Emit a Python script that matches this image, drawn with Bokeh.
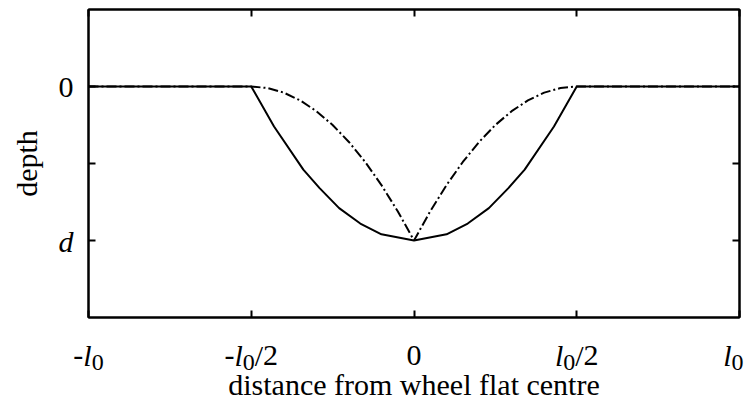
from bokeh.plotting import figure
from bokeh.models import Range1d, LinearAxis, FixedTicker, ColumnDataSource
from bokeh.core.properties import value
from bokeh.embed import file_html
from bokeh.resources import INLINE

# ---- data ----
x_ticks = [-1.0, -0.5, 0.0, 0.5, 1.0]
x_tick_labels = ["-l_0", "-l_0/2", "0", "l_0/2", "l_0"]
y_ticks = [-1.0, -0.5, 0.0]
y_tick_labels = ["d", "", "0"]

solid_x = [-1.0, -0.5, -0.43, -0.34, -0.29, -0.23, -0.165, -0.1, 0.0,
           0.1, 0.165, 0.23, 0.29, 0.34, 0.43, 0.5, 1.0]
solid_y = [0.0, 0.0, -0.26, -0.54, -0.66, -0.79, -0.89, -0.96, -1.0,
           -0.96, -0.89, -0.79, -0.66, -0.54, -0.26, 0.0, 0.0]

dash_x = [-1.0, -0.5, -0.45, -0.4, -0.35, -0.3, -0.25, -0.2, -0.15, -0.1, -0.05, 0.0,
          0.05, 0.1, 0.15, 0.2, 0.25, 0.3, 0.35, 0.4, 0.45, 0.5, 1.0]
dash_y = [0.0, 0.0, -0.01, -0.04, -0.09, -0.16, -0.25, -0.36, -0.49, -0.64, -0.81, -1.0,
          -0.81, -0.64, -0.49, -0.36, -0.25, -0.16, -0.09, -0.04, -0.01, 0.0, 0.0]

FONT = "Liberation Serif"
FS = 30
W, H = 745, 403
BL, BR, BT, BB = 88, 6, 9, 85

p = figure(width=W, height=H, x_range=Range1d(-1, 1), y_range=Range1d(-1.5, 0.5),
           output_backend="svg", toolbar_location=None,
           min_border_left=BL, min_border_right=BR, min_border_top=BT, min_border_bottom=BB)
p.grid.visible = False
p.outline_line_color = "black"
p.outline_line_width = 2
p.background_fill_color = "white"
p.border_fill_color = "white"


def style_axis(ax, ticks):
    ax.ticker = FixedTicker(ticks=ticks)
    ax.major_label_overrides = {t: "" for t in ticks}
    ax.major_label_text_font_size = "0px"
    ax.major_label_standoff = 0
    ax.major_tick_in = 7
    ax.major_tick_out = 0
    ax.major_tick_line_width = 2
    ax.major_tick_line_color = "black"
    ax.minor_tick_line_color = None
    ax.axis_line_width = 2
    ax.axis_line_color = "black"


style_axis(p.xaxis[0], x_ticks)
style_axis(p.yaxis[0], y_ticks)
p.xaxis[0].axis_label = "distance from wheel flat centre"
p.yaxis[0].axis_label = "depth"
for ax in (p.xaxis[0], p.yaxis[0]):
    ax.axis_label_text_font = FONT
    ax.axis_label_text_font_size = f"{FS}px"
    ax.axis_label_text_font_style = "normal"
    ax.axis_label_text_color = "black"
p.xaxis[0].axis_label_standoff = 50
p.yaxis[0].axis_label_standoff = 46

top_ax = LinearAxis()
style_axis(top_ax, x_ticks)
p.add_layout(top_ax, "above")
right_ax = LinearAxis()
style_axis(right_ax, y_ticks)
p.add_layout(right_ax, "right")

p.line(solid_x, solid_y, line_color="black", line_width=2)
p.line(dash_x, dash_y, line_color="black", line_width=2, line_dash="10 3 2 3")

# ---- rich tick labels (italic l, subscript 0) ----
WID = {"-": 333, "l": 278, "0": 500, "/": 278, "2": 500, "d": 500}
SUB = 0.8
SUB_DROP = 7
FRAME_W = W - BL - BR


def parse(spec):
    parts = []
    i = 0
    while i < len(spec):
        c = spec[i]
        if c == "_":
            parts.append((spec[i + 1], False, True))
            i += 2
            continue
        parts.append((c, c.isalpha(), False))
        i += 1
    return parts


cols = dict(x=[], y=[], text=[], xo=[], yo=[], fs=[], st=[])


def add_rich(x, y, spec, dx, dy, align, px_anchor=None):
    parts = parse(spec)
    widths = [WID.get(t, 500) / 1000 * FS * (SUB if s else 1) for t, it, s in parts]
    total = sum(widths)
    start = -total / 2 if align == "center" else -total
    if px_anchor is not None:
        # keep the label inside the canvas
        right_edge = px_anchor + dx + start + total
        if right_edge > W - 2:
            start -= right_edge - (W - 2)
    cum = 0
    for (t, it, s), w in zip(parts, widths):
        cols["x"].append(x)
        cols["y"].append(y)
        cols["text"].append(t)
        cols["xo"].append(dx + start + cum)
        cols["yo"].append(dy + (SUB_DROP if s else 0))
        cols["fs"].append(f"{FS * (SUB if s else 1):.0f}px")
        cols["st"].append("italic" if it else "normal")
        cum += w


for xv, lab in zip(x_ticks, x_tick_labels):
    add_rich(xv, -1.5, lab, 0, 38, "center", px_anchor=BL + (xv + 1) / 2 * FRAME_W)
for yv, lab in zip(y_ticks, y_tick_labels):
    if lab:
        add_rich(-1.0, yv, lab, -15, 1, "right")

src = ColumnDataSource(cols)
r = p.text(x="x", y="y", text="text", x_offset="xo", y_offset="yo",
           text_font_size="fs", text_font_style="st", text_font=value(FONT),
           text_align="left", text_baseline="alphabetic", text_color="black",
           source=src)
r.level = "overlay"

open("out.html", "w").write(file_html(p, INLINE))
